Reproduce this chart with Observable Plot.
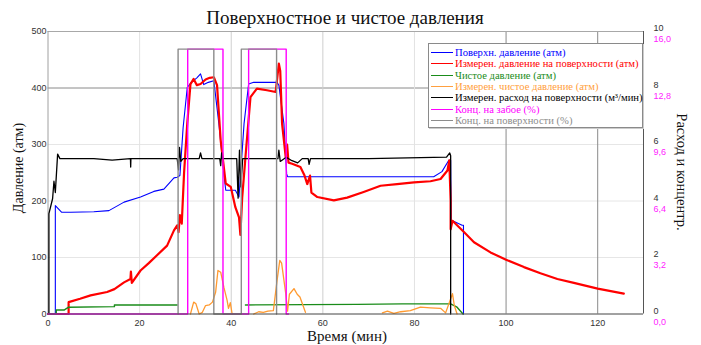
<!DOCTYPE html>
<html><head><meta charset="utf-8">
<script src="https://cdn.jsdelivr.net/npm/d3@7"></script>
<script src="https://cdn.jsdelivr.net/npm/@observablehq/plot@0.6"></script>
<style>
html,body{margin:0;padding:0;background:#fff;}
#wrap{position:relative;width:701px;height:345px;overflow:hidden;}
.ov{position:absolute;white-space:nowrap;font-family:"Liberation Serif","Times New Roman",serif;color:#111;}
#legend{position:absolute;left:428px;top:43px;width:213px;height:83px;background:#fff;border:1px solid #8a8a8a;box-shadow:1px 1px 0 #ccc;font-family:"Liberation Serif","Times New Roman",serif;font-size:10.6px;}
.li{position:absolute;left:2px;height:11px;line-height:11px;white-space:nowrap;}
.li span.sw{display:inline-block;width:22px;height:0;border-top:1.5px solid;vertical-align:middle;margin-right:2px;position:relative;top:-1px;}
</style></head>
<body><div id="wrap"></div>
<script>
// ---- data (time in minutes) ----
const xTicks = [0, 20, 40, 60, 80, 100, 120];
const yTicks = [0, 100, 200, 300, 400, 500];
// Surface pressure (atm)
const surfacePressure = [[0,0],[1.6,0],[1.6,192],[3.0,180],[5,180],[10,181],[13.3,183],[16.6,198],[20.2,207],[23.1,217],[25.3,221],[27.5,241],[28.2,242],[28.8,245],[29.5,330],[30.4,401],[31.3,410],[32.5,418],[33.3,425],[34.0,406],[35,410],[36.2,413],[37.3,337],[38.4,248],[38.8,219],[40.9,219],[41.7,207],[42.8,337],[43.8,407],[44.9,410],[50.0,410],[50.4,405],[51.5,337],[52.1,248],[52.3,243],[84.2,243],[86,252],[87.5,272],[87.9,272],[88.0,165],[88.3,165],[90.4,157],[90.7,157],[90.7,0]];
// Measured surface pressure (atm)
const measSurfacePressure = [[0,0],[4.5,0],[4.5,21],[7,27],[9.3,33],[12.9,39],[14.5,44],[16.6,56],[18,62],[18.1,75],[18.3,55],[20.2,77],[22,90],[23.8,104],[26.0,121],[27.5,148],[28.2,157],[28.5,145],[28.8,175],[29.2,160],[29.7,249],[30.4,337],[31.1,407],[31.8,416],[32.5,405],[33.3,407],[34.4,415],[35.3,418],[36.2,419],[36.9,405],[37.7,307],[38.8,231],[39.9,225],[40.9,189],[41.7,171],[42.0,140],[42.4,207],[43.1,277],[44.2,384],[45.6,399],[47.8,396],[49.7,393],[50.4,443],[50.7,430],[51.1,337],[51.9,277],[52.2,300],[52.5,268],[53.3,266],[55.1,260],[56.0,245],[56.6,230],[57.2,245],[57.5,215],[58.8,207],[62.4,201],[65.3,206],[68.9,216],[72.6,227],[76.2,230],[79.9,233],[83.5,235],[85.7,239],[87.2,254],[87.6,272],[87.9,200],[87.9,150],[88.3,165],[90.8,145],[93.0,127],[96.6,109],[100,96],[103.9,83],[107.5,72],[111.2,62],[114.8,55],[120,45],[125.7,36]];
// Clean (net) pressure (atm)
const cleanPressure = [[0,0],[1.8,0],[1.8,7],[3.5,7],[4.5,12],[14.5,13],[14.5,16],[28.2,16],[28.2,null],[43.1,null],[43.1,16],[67.5,17],[77.3,18],[87.9,18],[89.3,12],[90.6,0]];
// Measured clean pressure (atm)
const measCleanPressure = [[31.1,0],[31.8,21],[32.3,18],[33.0,0],[33.7,3],[34.4,15],[35.2,16],[35.9,21],[36.6,39],[37.1,77],[37.7,74],[38.4,47],[39.1,24],[39.4,10],[39.8,20],[40.2,0],[40.2,null],[44.9,null],[44.9,0],[46,4],[47,3],[48,5],[49.2,6],[50.0,59],[50.6,95],[51.0,90],[51.9,36],[52.3,5],[52.7,35],[53.7,45],[54.4,35],[55,30],[56.2,3],[56.2,null],[73.0,null],[73.0,2],[74.1,5],[75.5,1],[77,4],[79.1,6],[81.3,12],[83.5,11],[85.7,10],[86.8,2],[88.3,36],[88.7,15],[89.3,0]];
// Measured surface rate (m3/min), right axis 0-10
const measRate = [[0.2,0],[0.2,3.55],[1.0,4.08],[1.3,4.7],[1.6,4.3],[2.1,5.66],[2.6,5.5],[3.3,5.5],[10,5.5],[14,5.45],[18,5.5],[18.05,5.2],[18.1,5.5],[21,5.5],[28.2,5.5],[28.5,5.1],[28.7,5.9],[29.0,5.4],[29.5,5.5],[33.0,5.5],[33.3,5.7],[33.6,5.5],[37.5,5.5],[37.7,5.25],[37.9,5.7],[38.1,5.5],[41.2,5.5],[41.5,4.1],[41.8,5.8],[42.1,4.5],[42.5,5.5],[50.2,5.5],[50.4,5.8],[50.7,5.4],[52,5.55],[53,5.45],[54.5,5.35],[55.5,5.5],[56.8,5.5],[57,5.3],[57.3,5.5],[70,5.5],[87,5.55],[87.7,5.7],[87.9,5.6],[87.9,0]];
// Concentration at bottom (%), right axis 0-16
const concBottom = [[0,0],[30.5,0],[30.5,15],[38.2,15],[38.2,0],[43.8,0],[43.8,15],[52.0,15],[52.0,0],[52.5,0]];
// Concentration at surface (%)
const concSurface = [[28.4,0],[28.4,15],[36.2,15],[36.2,0],[42.2,0],[42.2,15],[49.9,15],[49.9,0]];

const legendItems = [
  ["Поверхн. давление (атм)", "#0000ff"],
  ["Измерен. давление на поверхности (атм)", "#ff0000"],
  ["Чистое давление (атм)", "#1a8c1a"],
  ["Измерен. чистое давление (атм)", "#ffa040"],
  ["Измерен. расход на поверхности (м³/мин)", "#000000"],
  ["Конц. на забое (%)", "#ff00ff"],
  ["Конц. на поверхности (%)", "#8c8c8c"]
];

const rateToY = v => v * 50;          // 0-10 -> 0-500
const pctToY = v => v / 16 * 500;     // 0-16 -> 0-500
const magentaFmt = d => (d / 500 * 16).toFixed(1).replace(".", ",");

const chart = Plot.plot({
  width: 701, height: 345,
  marginTop: 31, marginBottom: 31.5, marginLeft: 47.5, marginRight: 58,
  x: {domain: [0, 130]},
  y: {domain: [0, 500]},
  style: {fontFamily: "Liberation Sans, Arial, sans-serif", fontSize: "9px", color: "#333", background: "#fff"},
  marks: [
    Plot.ruleY([100, 200, 300], {stroke: "#e6e6e6"}),
    Plot.ruleY([400], {stroke: "#8a8a8a"}),
    Plot.ruleX([20, 80], {stroke: "#e2e2e2"}),
    Plot.ruleX([40, 60], {stroke: "#cfcfcf"}),
    Plot.ruleX([100, 120], {stroke: "#8a8a8a"}),
    Plot.ruleY([500], {stroke: "#a8a8a8"}),
    Plot.ruleX([0], {stroke: "#a0a0a0"}),
    Plot.ruleX([130], {stroke: "#555"}),
    Plot.axisX({ticks: xTicks, tickSize: 0, tickPadding: 6, label: null, fill: "#333"}),
    Plot.axisY({ticks: yTicks, tickSize: 0, tickPadding: 1.5, label: null, fill: "#333"}),
    Plot.axisY({anchor: "right", ticks: yTicks, tickSize: 0, tickPadding: 10, label: null, tickFormat: d => String(d / 50), dy: -3, fill: "#333"}),
    Plot.axisY({anchor: "right", ticks: yTicks, tickSize: 0, tickPadding: 10, label: null, tickFormat: magentaFmt, dy: 8, fill: "#ff22ff"}),
    Plot.line(surfacePressure, {x: d => d[0], y: d => d[1], stroke: "#0000ff", strokeWidth: 1.1}),
    Plot.line(measSurfacePressure, {x: d => d[0], y: d => d[1], stroke: "#ff0000", strokeWidth: 2.2, strokeLinejoin: "round"}),
    Plot.line(cleanPressure, {x: d => d[0], y: d => d[1], stroke: "#1a8c1a", strokeWidth: 1.4}),
    Plot.line(measCleanPressure, {x: d => d[0], y: d => d[1], stroke: "#ff9a30", strokeWidth: 1.3}),
    Plot.line(measRate, {x: d => d[0], y: d => rateToY(d[1]), stroke: "#000", strokeWidth: 1.3}),
    Plot.line(concBottom, {x: d => d[0], y: d => pctToY(d[1]), stroke: "#ff00ff", strokeWidth: 1.4}),
    Plot.line(concSurface, {x: d => d[0], y: d => pctToY(d[1]), stroke: "#8c8c8c", strokeWidth: 1.4}),
    Plot.ruleY([0], {stroke: "#444"})
  ]
});

const wrap = document.getElementById("wrap");
chart.style.position = "absolute"; chart.style.left = "0"; chart.style.top = "0";
wrap.appendChild(chart);

function addText(txt, css) {
  const d = document.createElement("div");
  d.className = "ov"; d.textContent = txt;
  Object.assign(d.style, css);
  wrap.appendChild(d);
  return d;
}
addText("Поверхностное и чистое давления", {left: "345px", top: "18px", fontSize: "19px", transform: "translate(-50%,-50%)"});
addText("Время (мин)", {left: "347px", top: "336px", fontSize: "15px", transform: "translate(-50%,-50%)"});
addText("Давление (атм)", {left: "19px", top: "168px", fontSize: "14px", transform: "translate(-50%,-50%) rotate(-90deg)"});
addText("Расход и концентр.", {left: "681px", top: "172px", fontSize: "14.5px", transform: "translate(-50%,-50%) rotate(90deg)"});

const lg = document.createElement("div");
lg.id = "legend";
legendItems.forEach(([label, color], i) => {
  const r = document.createElement("div");
  r.className = "li";
  r.style.top = (3 + i * 11.3) + "px";
  r.style.color = color;
  const sw = document.createElement("span");
  sw.className = "sw"; sw.style.borderTopColor = color;
  r.appendChild(sw);
  r.appendChild(document.createTextNode(label));
  lg.appendChild(r);
});
wrap.appendChild(lg);
</script></body></html>
